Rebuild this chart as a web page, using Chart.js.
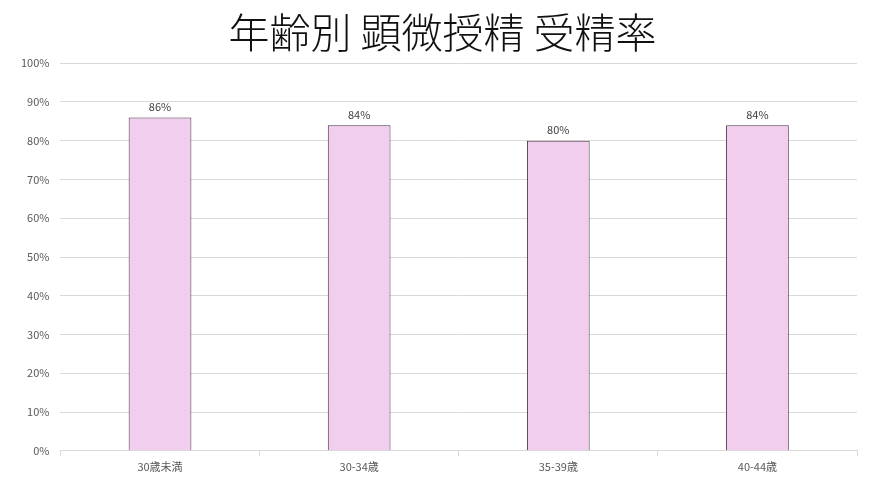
<!DOCTYPE html>
<html><head><meta charset="utf-8">
<script src="https://cdn.jsdelivr.net/npm/chart.js@4"></script>
<style>html,body{margin:0;padding:0;background:#fff}#wrap{width:887px;height:499px}</style>
</head><body><div id="wrap"><canvas id="c"></canvas></div>
<script>
const categories = ['30歳未満','30-34歳','35-39歳','40-44歳'];
const rates = [86, 84, 80, 84];
const titleText = '年齢別 顕微授精 受精率';

const labelPlugin = {
  id: 'vals',
  afterLayout(chart) {
    const t = chart.titleBlock;
    if (t) { t.left = 28; t.right = 857; t.width = t.right - t.left; }
  },
  afterDatasetsDraw(chart) {
    const ctx = chart.ctx;
    const meta = chart.getDatasetMeta(0);
    ctx.save();
    ctx.font = '11px "Noto Sans CJK JP", "Noto Sans", sans-serif';
    ctx.fillStyle = '#404040';
    ctx.textAlign = 'center';
    ctx.textBaseline = 'bottom';
    meta.data.forEach((bar, i) => {
      ctx.fillText(rates[i] + '%', bar.x, bar.y - 5);
    });
    ctx.restore();
  }
};

new Chart(document.getElementById('c'), {
  type: 'bar',
  data: {
    labels: categories,
    datasets: [{
      data: rates,
      backgroundColor: '#F2CEEE',
      borderColor: '#4a3245',
      borderWidth: 1,
      barPercentage: 0.315,
      categoryPercentage: 1
    }]
  },
  options: {
    responsive: true,
    maintainAspectRatio: false,
    animation: false,
    layout: { padding: { left: 10, right: 30, top: 0, bottom: 22 } },
    plugins: {
      legend: { display: false },
      tooltip: { enabled: false },
      title: {
        display: true,
        text: titleText,
        color: '#111',
        font: { size: 41, family: '"Noto Sans CJK JP", sans-serif', weight: 300 },
        padding: { top: 8, bottom: 6 }
      }
    },
    scales: {
      x: {
        grid: { display: true, drawOnChartArea: false, color: '#d9d9d9', tickLength: 5, offset: true },
        border: { color: '#d9d9d9' },
        ticks: { color: '#595959', font: { size: 11, family: '"Noto Sans CJK JP", sans-serif' }, padding: 4 }
      },
      y: {
        min: 0, max: 100,
        ticks: { stepSize: 10, color: '#595959', font: { size: 11, family: '"Noto Sans CJK JP", sans-serif' }, callback: v => v + '%', padding: 11 },
        grid: { color: '#d9d9d9', drawTicks: false },
        border: { display: false }
      }
    }
  },
  plugins: [labelPlugin]
});
</script></body></html>
